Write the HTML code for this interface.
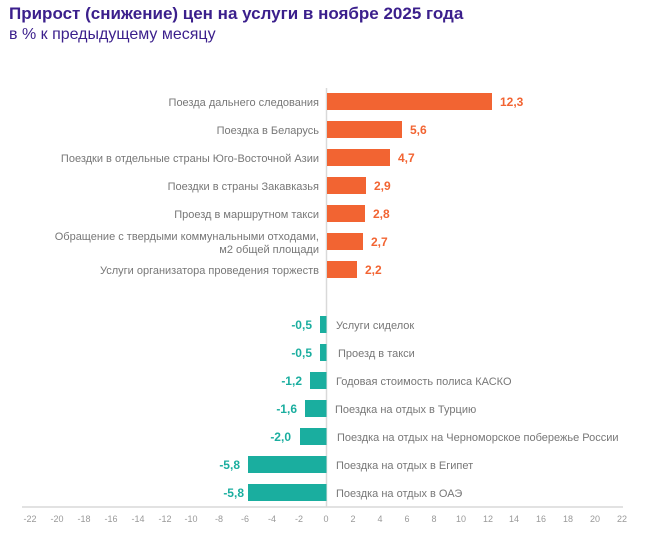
<!DOCTYPE html>
<html><head><meta charset="utf-8"><style>
body{margin:0;background:#fff;width:656px;height:543px;overflow:hidden;font-family:"Liberation Sans",sans-serif}
.t1{position:absolute;left:9px;top:4px;font-size:17px;font-weight:bold;color:#3b1f8c}
.t2{position:absolute;left:9px;top:26px;font-size:16px;color:#3b1f8c}
</style></head><body>
<div class="t1">Прирост (снижение) цен на услуги в ноябре 2025 года</div>
<div class="t2">в % к предыдущему месяцу</div>
<svg width="656" height="543" style="position:absolute;left:0;top:0" font-family="Liberation Sans, sans-serif">
<line x1="22" y1="507" x2="623" y2="507" stroke="#d9d9d9" stroke-width="1.5"/>
<line x1="326.5" y1="88" x2="326.5" y2="507" stroke="#d9d9d9" stroke-width="1.5"/>
<g font-size="9" fill="#999" text-anchor="middle">
<text x="30" y="522">-22</text><text x="57" y="522">-20</text><text x="84" y="522">-18</text><text x="111" y="522">-16</text><text x="138" y="522">-14</text><text x="165" y="522">-12</text><text x="191" y="522">-10</text><text x="219" y="522">-8</text><text x="245" y="522">-6</text><text x="272" y="522">-4</text><text x="299" y="522">-2</text><text x="326" y="522">0</text><text x="353" y="522">2</text><text x="380" y="522">4</text><text x="407" y="522">6</text><text x="434" y="522">8</text><text x="461" y="522">10</text><text x="488" y="522">12</text><text x="514" y="522">14</text><text x="541" y="522">16</text><text x="568" y="522">18</text><text x="595" y="522">20</text><text x="622" y="522">22</text>
</g>
<g fill="#f26432">
<rect x="327" y="93" width="165" height="17"/>
<rect x="327" y="121" width="75" height="17"/>
<rect x="327" y="149" width="63" height="17"/>
<rect x="327" y="177" width="39" height="17"/>
<rect x="327" y="205" width="38" height="17"/>
<rect x="327" y="233" width="36" height="17"/>
<rect x="327" y="261" width="30" height="17"/>
</g>
<g fill="#f26432" font-size="12" font-weight="bold">
<text x="500" y="106">12,3</text><text x="410" y="134">5,6</text><text x="398" y="162">4,7</text><text x="374" y="190">2,9</text><text x="373" y="218">2,8</text><text x="371" y="246">2,7</text><text x="365" y="274">2,2</text>
</g>
<g fill="#777" font-size="11" text-anchor="end">
<text x="319" y="106">Поезда дальнего следования</text>
<text x="319" y="134">Поездка в Беларусь</text>
<text x="319" y="162">Поездки в отдельные страны Юго-Восточной Азии</text>
<text x="319" y="190">Поездки в страны Закавказья</text>
<text x="319" y="218">Проезд в маршрутном такси</text>
<text x="319" y="240">Обращение с твердыми коммунальными отходами,</text>
<text x="319" y="253">м2 общей площади</text>
<text x="319" y="274">Услуги организатора проведения торжеств</text>
</g>
<g fill="#1aae9f">
<rect x="320" y="316" width="6.5" height="17"/>
<rect x="320" y="344" width="6.5" height="17"/>
<rect x="310" y="372" width="16.5" height="17"/>
<rect x="305" y="400" width="21.5" height="17"/>
<rect x="300" y="428" width="26.5" height="17"/>
<rect x="248" y="456" width="78.5" height="17"/>
<rect x="248" y="484" width="78.5" height="17"/>
</g>
<g fill="#1aae9f" font-size="12" font-weight="bold" text-anchor="end">
<text x="312" y="329">-0,5</text><text x="312" y="357">-0,5</text><text x="302" y="385">-1,2</text><text x="297" y="413">-1,6</text><text x="291" y="441">-2,0</text><text x="240" y="469">-5,8</text><text x="244" y="497">-5,8</text>
</g>
<g fill="#777" font-size="11">
<text x="336" y="329">Услуги сиделок</text>
<text x="338" y="357">Проезд в такси</text>
<text x="336" y="385">Годовая стоимость полиса КАСКО</text>
<text x="335" y="413">Поездка на отдых в Турцию</text>
<text x="337" y="441">Поездка на отдых на Черноморское побережье России</text>
<text x="336" y="469">Поездка на отдых в Египет</text>
<text x="336" y="497">Поездка на отдых в ОАЭ</text>
</g>
</svg>
</body></html>
